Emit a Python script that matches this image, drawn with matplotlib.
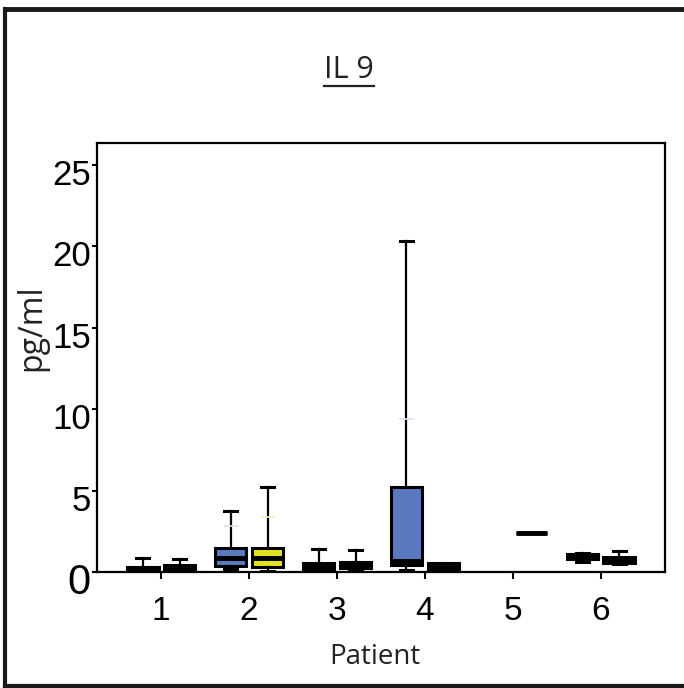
import matplotlib
matplotlib.use("Agg")
import matplotlib.pyplot as plt
from matplotlib.lines import Line2D
from matplotlib.transforms import ScaledTranslation

# dados (pg/ml)
patients = [1, 2, 3, 4, 5, 6]

# serie azul (sem valor no doente 5)
blue_pat = [1, 2, 3, 4, 6]
blue_whislo = [0.0, 0.2, 0.05, 0.1, 0.63]
blue_q1 = [0.0, 0.35, 0.2, 0.43, 0.78]
blue_med = [0.1, 0.87, 0.38, 0.7, 0.95]
blue_q3 = [0.3, 1.5, 0.56, 5.2, 1.08]
blue_whishi = [0.86, 3.76, 1.4, 20.3, 1.18]
blue_mean_pat = [2, 4]
blue_mean = [2.8, 9.4]

# serie amarela
yel_pat = [1, 2, 3, 4, 5, 6]
yel_whislo = [0.0, 0.08, 0.05, 0.05, 2.4, 0.5]
yel_q1 = [0.05, 0.33, 0.22, 0.1, 2.4, 0.53]
yel_med = [0.2, 0.85, 0.4, 0.3, 2.4, 0.75]
yel_q3 = [0.4, 1.5, 0.6, 0.53, 2.4, 0.94]
yel_whishi = [0.8, 5.2, 1.35, 0.53, 2.4, 1.29]
yel_mean_pat = [2]
yel_mean = [3.4]

yticks = [0, 5, 10, 15, 20, 25]

blue = "#5b79bf"
yellow = "#e2e21e"
offset = 0.21
width = 0.36


def stats(whislo, q1, med, q3, whishi):
    res = []
    for i in range(len(med)):
        res.append({"whislo": whislo[i], "q1": q1[i], "med": med[i],
                    "q3": q3[i], "whishi": whishi[i], "fliers": []})
    return res


fig = plt.figure(figsize=(6.84, 6.88), dpi=100)
ax = fig.add_axes([97 / 684, 116 / 688, 568 / 684, 429 / 688])

lw = 2.2
props = dict(patch_artist=True, widths=width, showfliers=False, capwidths=0.15,
             boxprops=dict(linewidth=lw, edgecolor="black"),
             medianprops=dict(linewidth=lw * 1.6, color="black"),
             whiskerprops=dict(linewidth=1.6, color="black"),
             capprops=dict(linewidth=lw, color="black"))

b1 = ax.bxp(stats(blue_whislo, blue_q1, blue_med, blue_q3, blue_whishi),
            positions=[p - offset for p in blue_pat], **props)
for patch in b1["boxes"]:
    patch.set_facecolor(blue)

b2 = ax.bxp(stats(yel_whislo, yel_q1, yel_med, yel_q3, yel_whishi),
            positions=[p + offset for p in yel_pat], **props)
for patch in b2["boxes"]:
    patch.set_facecolor(yellow)

# medias (tracos quase invisiveis)
ax.hlines(blue_mean, [p - offset - 0.08 for p in blue_mean_pat],
          [p - offset + 0.08 for p in blue_mean_pat], color="#dde2ee", linewidth=1.2)
ax.hlines(yel_mean, [p + offset - 0.08 for p in yel_mean_pat],
          [p + offset + 0.08 for p in yel_mean_pat], color="#f0f0c8", linewidth=1.2)

ax.set_xlim(0.27, 6.73)
ax.set_ylim(0, 26.35)
ax.set_xticks(patients)
ax.set_xticklabels([str(p) for p in patients], fontsize=24, family="Liberation Sans")
ax.set_yticks(yticks)
ax.set_yticklabels([str(t) for t in yticks], fontsize=25, family="Liberation Sans")
ax.tick_params(axis="y", direction="out", length=3.5, width=1.5, pad=1)
ax.tick_params(axis="x", direction="out", length=5, width=1.5, pad=12)
for lab in ax.get_yticklabels():
    lab.set_transform(lab.get_transform() + ScaledTranslation(0, -0.07, fig.dpi_scale_trans))
# o zero aparece maior no original
ax.get_yticklabels()[0].set_fontsize(30)
for s in ax.spines.values():
    s.set_linewidth(1.6)

fig.text(32 / 684, 1 - 328 / 688, "pg/ml", rotation=90, ha="center", va="center",
         fontsize=23, family="Open Sans", color="#222222")
fig.text(375 / 684, 1 - 657 / 688, "Patient", ha="center", va="center",
         fontsize=20, family="Open Sans", color="#222222")
title = fig.text(349 / 684, 1 - 70 / 688, "IL 9", ha="center", va="center",
                 fontsize=22, family="Open Sans", color="#222222")

# sublinhado do titulo
fig.canvas.draw()
bb = title.get_window_extent().transformed(fig.transFigure.inverted())
fig.add_artist(Line2D([bb.x0, bb.x1], [1 - 86 / 688] * 2, color="#222222", linewidth=1.6))

# moldura
fig.add_artist(Line2D([5 / 684, 5 / 684], [2 / 688, 1 - 9 / 688], color="#1a1a1a", linewidth=3))
fig.add_artist(Line2D([5 / 684, 1.0], [1 - 9 / 688] * 2, color="#1a1a1a", linewidth=3.5))
fig.add_artist(Line2D([5 / 684, 1.0], [2 / 688] * 2, color="#1a1a1a", linewidth=3))

fig.savefig("out.png", dpi=100)
